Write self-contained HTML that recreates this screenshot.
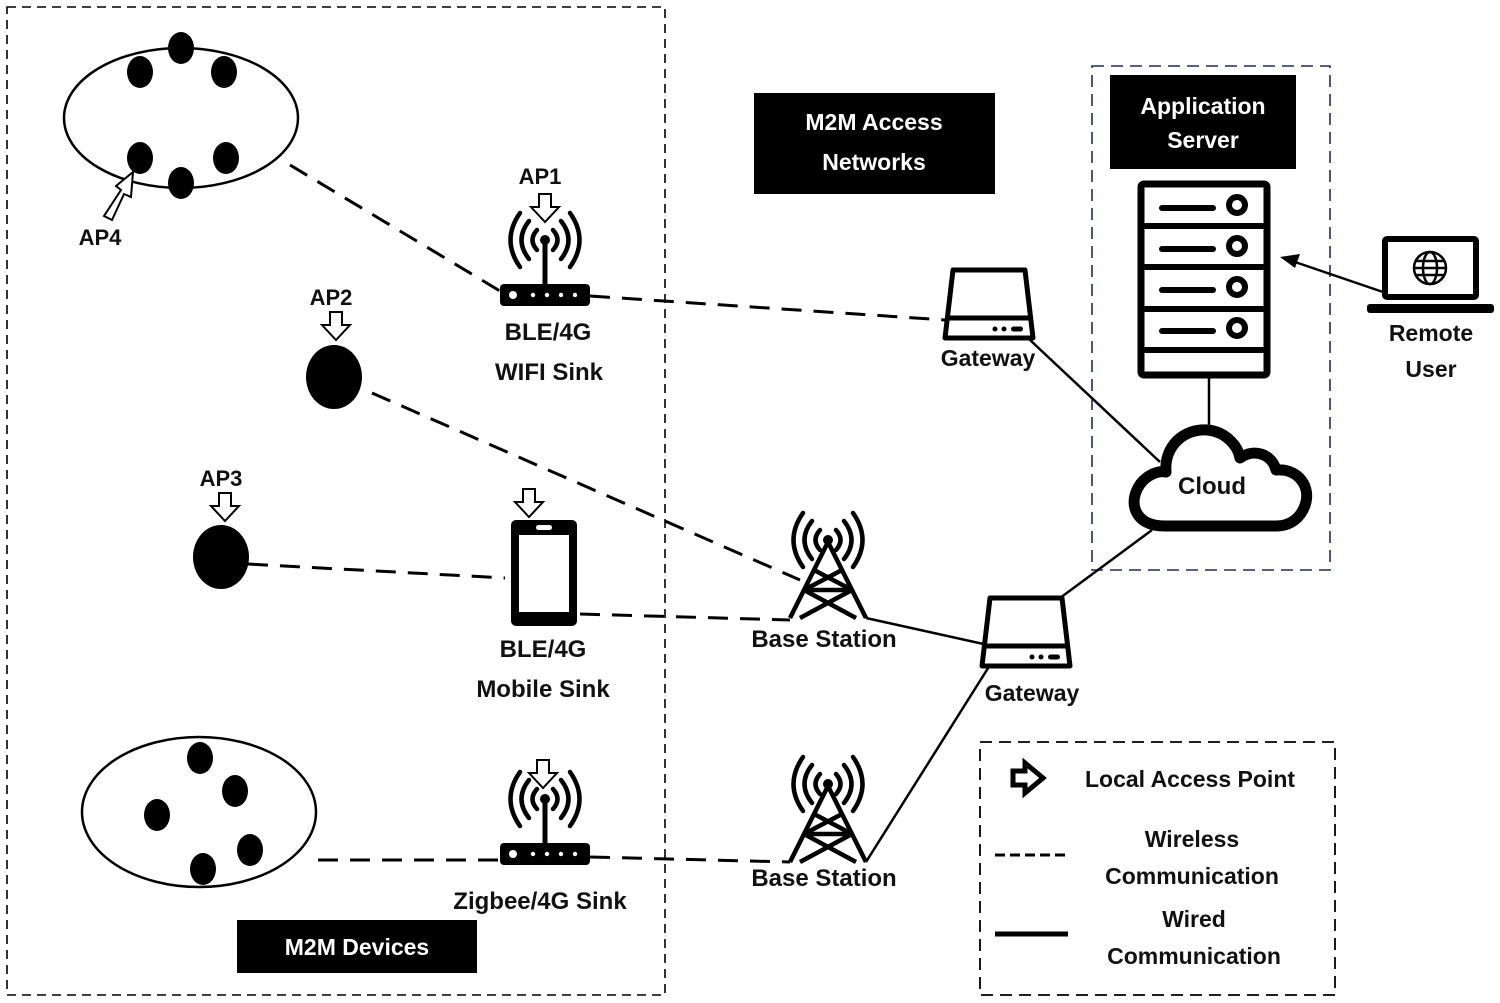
<!DOCTYPE html>
<html><head><meta charset="utf-8"><style>
html,body{margin:0;padding:0;background:#fff;}
svg{display:block;}
text{font-family:"Liberation Sans",sans-serif;font-weight:bold;fill:#111;}
</style></head><body>
<svg width="1500" height="1003" viewBox="0 0 1500 1003" xmlns="http://www.w3.org/2000/svg">
<defs>
  <g id="harrow"><polygon points="-6,-15 6,-15 6,-2 14,-2 0,13 -14,-2 -6,-2" fill="#fff" stroke="#000" stroke-width="2"/></g>
  <g id="waves" fill="none" stroke="#000" stroke-width="4.5" stroke-linecap="round">
    <path d="M-8,-10 Q-17,0 -8,10"/><path d="M8,-10 Q17,0 8,10"/>
    <path d="M-16,-19 Q-31,0 -16,19"/><path d="M16,-19 Q31,0 16,19"/>
    <path d="M-25,-27 Q-44,0 -25,27"/><path d="M25,-27 Q44,0 25,27"/>
    <circle cx="0" cy="0" r="5" fill="#000" stroke="none"/>
  </g>
  <g id="router">
    <use href="#waves"/>
    <line x1="0" y1="0" x2="0" y2="44" stroke="#000" stroke-width="5"/>
    <rect x="-45" y="44" width="90" height="22" rx="4" fill="#000"/>
    <circle cx="-32" cy="55" r="4" fill="#fff"/>
    <circle cx="-12" cy="55" r="2.2" fill="#fff"/><circle cx="2" cy="55" r="2.2" fill="#fff"/>
    <circle cx="16" cy="55" r="2.2" fill="#fff"/><circle cx="30" cy="55" r="2.2" fill="#fff"/>
  </g>
  <g id="tower">
    <use href="#waves"/>
    <g fill="none" stroke="#000" stroke-width="4.5" stroke-linejoin="round">
      <path d="M0,2 L-38,78 M0,2 L38,78"/>
      <path d="M-14,30 L24,50 L-28,78 M14,30 L-24,50 L28,78"/>
      <path d="M-24,50 L24,50"/>
    </g>
  </g>
  <g id="gateway">
    <path d="M-36,0 L36,0 L44,68 L-44,68 Z" fill="#fff" stroke="#000" stroke-width="5" stroke-linejoin="round"/>
    <line x1="-43" y1="48" x2="43" y2="48" stroke="#000" stroke-width="5"/>
    <circle cx="6" cy="59" r="2.5"/><circle cx="15" cy="59" r="2.5"/>
    <rect x="22" y="56.5" width="12" height="5" rx="2.5"/>
  </g>
</defs>

<rect x="7" y="7" width="658" height="988" fill="none" stroke="#000" stroke-width="1.6" stroke-dasharray="9,6"/>
<rect x="1092" y="66" width="238" height="504" fill="none" stroke="#1f2d5a" stroke-width="1.6" stroke-dasharray="12,7"/>
<rect x="980" y="742" width="355" height="253" fill="none" stroke="#000" stroke-width="1.8" stroke-dasharray="12,7"/>

<g stroke="#000" stroke-width="3" stroke-dasharray="20,12" fill="none">
  <line x1="290" y1="165" x2="500" y2="291"/>
  <line x1="590" y1="296" x2="945" y2="320"/>
  <line x1="372" y1="393" x2="800" y2="580"/>
  <line x1="248" y1="564" x2="505" y2="578"/>
  <line x1="580" y1="614" x2="790" y2="620"/>
  <line x1="318" y1="860" x2="500" y2="860"/>
  <line x1="590" y1="857" x2="790" y2="862"/>
</g>
<g stroke="#000" stroke-width="2.5" fill="none">
  <line x1="1030" y1="340" x2="1160" y2="462"/>
  <line x1="866" y1="618" x2="988" y2="645"/>
  <line x1="866" y1="862" x2="990" y2="665"/>
  <line x1="1060" y1="598" x2="1152" y2="530"/>
  <line x1="1209" y1="378" x2="1209" y2="425"/>
  <line x1="1383" y1="292" x2="1295" y2="262"/>
</g>
<polygon points="1280,257 1300,254 1295,268" fill="#000"/>

<ellipse cx="181" cy="118" rx="117" ry="70" fill="#fff" stroke="#000" stroke-width="2.5"/>
<g fill="#000">
  <ellipse cx="140" cy="72" rx="13" ry="16"/><ellipse cx="181" cy="48" rx="13" ry="16"/>
  <ellipse cx="224" cy="72" rx="13" ry="16"/><ellipse cx="140" cy="158" rx="13" ry="16"/>
  <ellipse cx="181" cy="183" rx="13" ry="16"/><ellipse cx="226" cy="158" rx="13" ry="16"/>
</g>
<polygon points="104,216 112,220 124,194 131,197 133,172 116,186 121,190" fill="#fff" stroke="#000" stroke-width="2"/>
<text x="100" y="245" font-size="22" text-anchor="middle">AP4</text>

<ellipse cx="199" cy="812" rx="117" ry="75" fill="#fff" stroke="#000" stroke-width="2.5"/>
<g fill="#000">
  <ellipse cx="200" cy="758" rx="13" ry="16"/><ellipse cx="235" cy="791" rx="13" ry="16"/>
  <ellipse cx="157" cy="815" rx="13" ry="16"/><ellipse cx="250" cy="850" rx="13" ry="16"/>
  <ellipse cx="203" cy="869" rx="13" ry="16"/>
</g>

<ellipse cx="334" cy="377" rx="28" ry="32" fill="#000"/>
<text x="331" y="305" font-size="22" text-anchor="middle">AP2</text>
<use href="#harrow" x="336" y="327"/>
<ellipse cx="221" cy="557" rx="28" ry="32" fill="#000"/>
<text x="221" y="486" font-size="22" text-anchor="middle">AP3</text>
<use href="#harrow" x="225" y="508"/>

<use href="#router" x="545" y="240"/>
<text x="540" y="184" font-size="22" text-anchor="middle">AP1</text>
<use href="#harrow" x="545" y="209"/>
<text x="548" y="340" font-size="24" text-anchor="middle">BLE/4G</text>
<text x="549" y="380" font-size="24" text-anchor="middle">WIFI Sink</text>

<rect x="511" y="520" width="66" height="106" rx="5" fill="#000"/>
<rect x="519" y="535" width="50" height="77" fill="#fff"/>
<rect x="536" y="525" width="16" height="5" rx="2.5" fill="#fff"/>
<use href="#harrow" x="529" y="504"/>
<text x="543" y="657" font-size="24" text-anchor="middle">BLE/4G</text>
<text x="543" y="697" font-size="24" text-anchor="middle">Mobile Sink</text>

<use href="#router" x="545" y="799"/>
<use href="#harrow" x="543" y="775"/>
<text x="540" y="909" font-size="24" text-anchor="middle">Zigbee/4G Sink</text>

<use href="#tower" x="828" y="540"/>
<text x="824" y="647" font-size="24" text-anchor="middle">Base Station</text>
<use href="#tower" x="828" y="784"/>
<text x="824" y="886" font-size="24" text-anchor="middle">Base Station</text>

<use href="#gateway" x="989" y="270"/>
<text x="988" y="366" font-size="23" text-anchor="middle">Gateway</text>
<use href="#gateway" x="1026" y="598"/>
<text x="1032" y="701" font-size="23" text-anchor="middle">Gateway</text>

<rect x="754" y="93" width="241" height="101" fill="#000"/>
<text x="874" y="130" font-size="23" text-anchor="middle" style="fill:#fff">M2M Access</text>
<text x="874" y="170" font-size="23" text-anchor="middle" style="fill:#fff">Networks</text>
<rect x="1110" y="75" width="186" height="94" fill="#000"/>
<text x="1203" y="114" font-size="23" text-anchor="middle" style="fill:#fff">Application</text>
<text x="1203" y="148" font-size="23" text-anchor="middle" style="fill:#fff">Server</text>
<rect x="237" y="920" width="240" height="53" fill="#000"/>
<text x="357" y="955" font-size="23" text-anchor="middle" style="fill:#fff">M2M Devices</text>

<rect x="1141" y="184" width="126" height="191" rx="3" fill="#fff" stroke="#000" stroke-width="7"/>
<g stroke="#000" stroke-width="6">
  <line x1="1141" y1="226" x2="1267" y2="226"/>
  <line x1="1141" y1="267" x2="1267" y2="267"/>
  <line x1="1141" y1="309" x2="1267" y2="309"/>
  <line x1="1141" y1="350" x2="1267" y2="350"/>
</g>
<g stroke="#000" stroke-width="6" stroke-linecap="round" fill="#fff">
  <line x1="1162" y1="208" x2="1213" y2="208"/><circle cx="1237" cy="205" r="8"/>
  <line x1="1162" y1="249" x2="1213" y2="249"/><circle cx="1237" cy="246" r="8"/>
  <line x1="1162" y1="290" x2="1213" y2="290"/><circle cx="1237" cy="287" r="8"/>
  <line x1="1162" y1="331" x2="1213" y2="331"/><circle cx="1237" cy="328" r="8"/>
</g>

<path d="M1165,526 C1138,526 1130,508 1136,492 C1142,476 1158,470 1166,472 C1164,446 1184,428 1208,430 C1226,432 1238,446 1240,458 C1254,448 1272,454 1276,470 C1296,468 1310,484 1306,502 C1302,518 1290,526 1276,526 Z" fill="#fff" stroke="#000" stroke-width="11" stroke-linejoin="round"/>
<text x="1212" y="494" font-size="24" text-anchor="middle">Cloud</text>

<rect x="1385" y="239" width="91" height="58" rx="2" fill="#fff" stroke="#000" stroke-width="6"/>
<rect x="1367" y="304" width="127" height="9" rx="3" fill="#000"/>
<g fill="none" stroke="#000" stroke-width="2.5">
  <circle cx="1430" cy="268" r="16"/>
  <ellipse cx="1430" cy="268" rx="7" ry="16"/>
  <line x1="1414" y1="268" x2="1446" y2="268"/>
  <line x1="1416" y1="261" x2="1444" y2="261"/><line x1="1416" y1="275" x2="1444" y2="275"/>
</g>
<text x="1431" y="341" font-size="23" text-anchor="middle">Remote</text>
<text x="1431" y="377" font-size="23" text-anchor="middle">User</text>

<polygon points="1013,771 1025,771 1025,763 1043,778 1025,793 1025,785 1013,785" fill="#fff" stroke="#000" stroke-width="5"/>
<text x="1190" y="787" font-size="23" text-anchor="middle">Local Access Point</text>
<line x1="995" y1="855" x2="1068" y2="855" stroke="#000" stroke-width="3" stroke-dasharray="10,5"/>
<text x="1192" y="847" font-size="23" text-anchor="middle">Wireless</text>
<text x="1192" y="884" font-size="23" text-anchor="middle">Communication</text>
<line x1="995" y1="934" x2="1068" y2="934" stroke="#000" stroke-width="5"/>
<text x="1194" y="927" font-size="23" text-anchor="middle">Wired</text>
<text x="1194" y="964" font-size="23" text-anchor="middle">Communication</text>
</svg>
</body></html>
